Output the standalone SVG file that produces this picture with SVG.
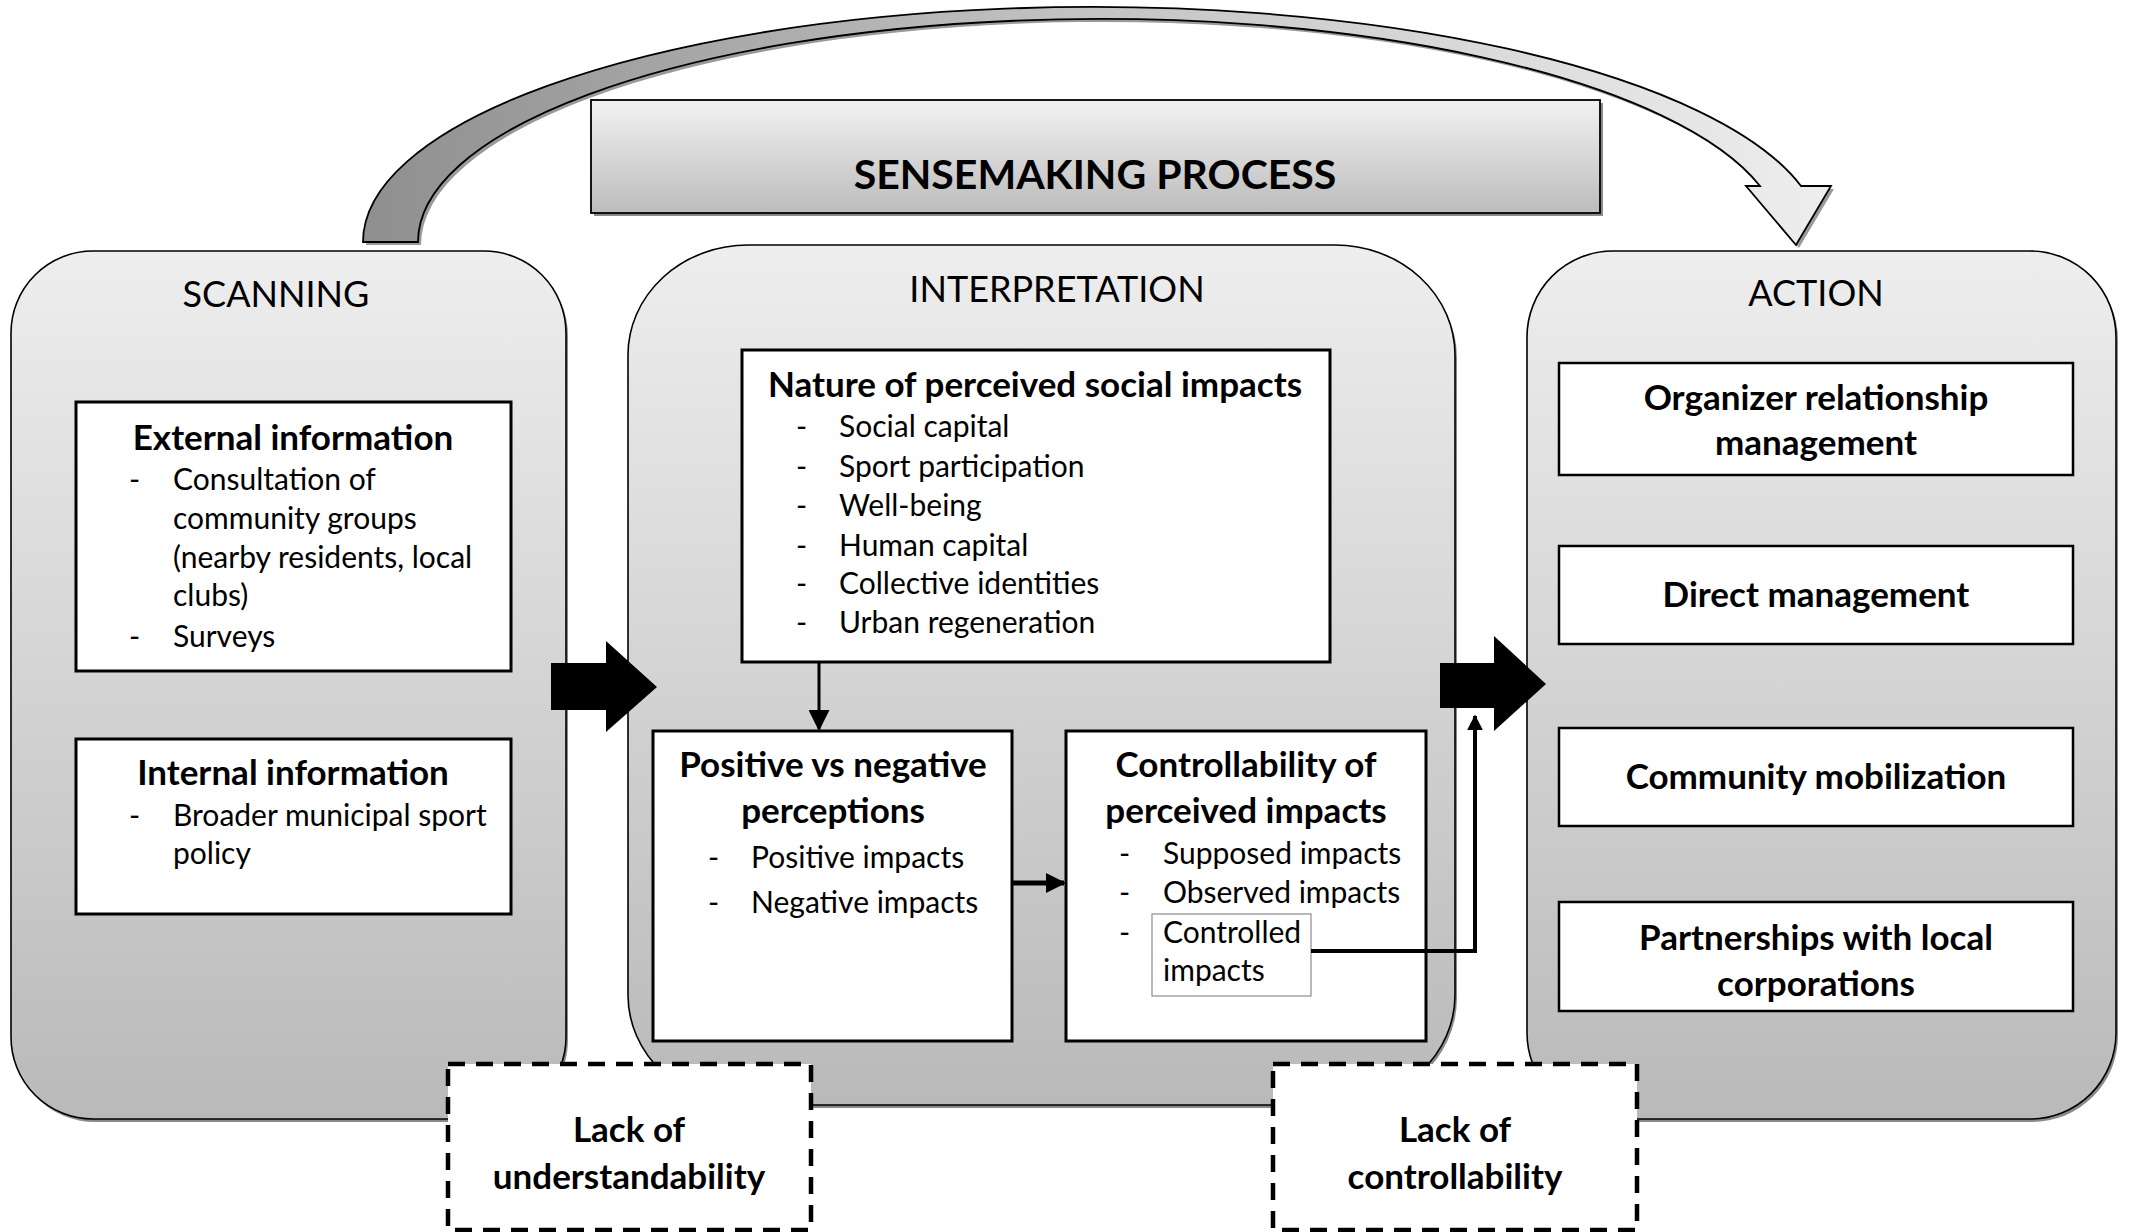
<svg xmlns="http://www.w3.org/2000/svg" width="2130" height="1232" viewBox="0 0 2130 1232">
<defs>
<linearGradient id="gCont" x1="0" y1="0" x2="0" y2="1">
<stop offset="0" stop-color="#eeeeee"/>
<stop offset="1" stop-color="#b9b9b9"/>
</linearGradient>
<linearGradient id="gHead" x1="0" y1="0" x2="0" y2="1">
<stop offset="0" stop-color="#f2f2f2"/>
<stop offset="1" stop-color="#bcbcbc"/>
</linearGradient>
<linearGradient id="gArc" gradientUnits="userSpaceOnUse" x1="363" y1="0" x2="1831" y2="0">
<stop offset="0" stop-color="#8f8f8f"/>
<stop offset="0.5" stop-color="#c4c4c4"/>
<stop offset="1" stop-color="#eeeeee"/>
</linearGradient>
<marker id="ah" viewBox="0 0 10 10" refX="9" refY="5" markerWidth="4" markerHeight="4" orient="auto" markerUnits="strokeWidth">
<path d="M0 0 L10 5 L0 10 Z" fill="#000"/>
</marker>
<marker id="ahS" viewBox="0 0 10 10" refX="9" refY="5" markerWidth="7" markerHeight="7" orient="auto" markerUnits="strokeWidth">
<path d="M0 0 L10 5 L0 10 Z" fill="#000"/>
</marker>
<path id="arcShape" d="M363 242 A729.5 235 0 0 1 1801 186 L1831 186 L1796 245 L1746 186 L1760 186 A681.9 223 0 0 0 418 242 Z"/>
</defs>
<style>
text{font-family:Lato,"Liberation Sans",sans-serif;fill:#000}
.h{font-size:36px;text-anchor:middle}
.t{font-size:35px;font-weight:bold;text-anchor:middle}
.b{font-size:30px}
.cont{fill:url(#gCont);stroke:#000;stroke-width:1.6}
.shadow{fill:#8a8a8a}
.box{fill:#fff;stroke:#000;stroke-width:3}
.abox{fill:#fff;stroke:#000;stroke-width:2.5}
.dash{fill:#fff;stroke:#000;stroke-width:4.5;stroke-dasharray:17 11}
.conn{fill:none;stroke:#000}
</style>

<!-- curved arrow on top -->
<g id="curved-arrow">
<use href="#arcShape" transform="translate(3,3)" fill="#9a9a9a"/>
<use href="#arcShape" fill="url(#gArc)" stroke="#000" stroke-width="1.8"/>
</g>

<g id="sensemaking">
<rect x="594" y="103" width="1009" height="113" class="shadow"/>
<rect x="591" y="100" width="1009" height="113" fill="url(#gHead)" stroke="#000" stroke-width="1.8"/>
<text x="1095" y="189" style="font-size:41px;font-weight:bold;text-anchor:middle">SENSEMAKING PROCESS</text>
</g>

<g id="scanning">
<rect x="13" y="254" width="555" height="868" rx="82" ry="82" class="shadow"/>
<rect x="11" y="251" width="555" height="868" rx="82" ry="82" class="cont"/>
<text x="276" y="307" class="h">SCANNING</text>
</g>

<g id="interpretation">
<rect x="630" y="248" width="827" height="860" rx="120" ry="110" class="shadow"/>
<rect x="628" y="245" width="827" height="860" rx="120" ry="110" class="cont"/>
<text x="1057" y="302" class="h">INTERPRETATION</text>
</g>

<g id="action">
<rect x="1529" y="254" width="589" height="868" rx="86" ry="86" class="shadow"/>
<rect x="1527" y="251" width="589" height="868" rx="86" ry="86" class="cont"/>
<text x="1816" y="306" class="h">ACTION</text>
</g>

<g id="block-arrows">
<path d="M551 663 H606 V641 L657 687 L606 732 V710 H551 Z" fill="#000"/>
<path d="M1440 663 H1494 V636 L1546 684 L1494 731 V708 H1440 Z" fill="#000"/>
</g>

<g id="external-information">
<rect x="76" y="402" width="435" height="269" class="box"/>
<text x="293" y="450" class="t">External information</text>
<text class="b"><tspan x="129" y="490">-</tspan><tspan x="173" y="490">Consultation of</tspan><tspan x="173" y="529">community groups</tspan><tspan x="173" y="568">(nearby residents, local</tspan><tspan x="173" y="606">clubs)</tspan><tspan x="129" y="647">-</tspan><tspan x="173" y="647">Surveys</tspan></text>
</g>

<g id="internal-information">
<rect x="76" y="739" width="435" height="175" class="box"/>
<text x="293" y="785" class="t">Internal information</text>
<text class="b"><tspan x="129" y="826">-</tspan><tspan x="173" y="826">Broader municipal sport</tspan><tspan x="173" y="864">policy</tspan></text>
</g>

<g id="nature">
<rect x="742" y="350" width="588" height="312" class="box"/>
<text x="1035" y="397" class="t">Nature of perceived social impacts</text>
<text class="b"><tspan x="796" y="437">-</tspan><tspan x="839" y="437">Social capital</tspan><tspan x="796" y="477">-</tspan><tspan x="839" y="477">Sport participation</tspan><tspan x="796" y="516">-</tspan><tspan x="839" y="516">Well-being</tspan><tspan x="796" y="556">-</tspan><tspan x="839" y="556">Human capital</tspan><tspan x="796" y="594">-</tspan><tspan x="839" y="594">Collective identities</tspan><tspan x="796" y="633">-</tspan><tspan x="839" y="633">Urban regeneration</tspan></text>
</g>

<g id="positive-negative">
<rect x="653" y="731" width="359" height="310" class="box"/>
<text class="t"><tspan x="833" y="777">Positive vs negative</tspan><tspan x="833" y="823">perceptions</tspan></text>
<text class="b"><tspan x="708" y="868">-</tspan><tspan x="751" y="868">Positive impacts</tspan><tspan x="708" y="913">-</tspan><tspan x="751" y="913">Negative impacts</tspan></text>
</g>

<g id="controllability">
<rect x="1066" y="731" width="360" height="310" class="box"/>
<text class="t"><tspan x="1246" y="777">Controllability of</tspan><tspan x="1246" y="823">perceived impacts</tspan></text>
<rect x="1152" y="914" width="159" height="82" fill="#fff" stroke="#8c8c8c" stroke-width="1.2"/>
<text class="b"><tspan x="1119" y="864">-</tspan><tspan x="1163" y="864">Supposed impacts</tspan><tspan x="1119" y="903">-</tspan><tspan x="1163" y="903">Observed impacts</tspan><tspan x="1119" y="943">-</tspan><tspan x="1163" y="943">Controlled</tspan><tspan x="1163" y="981">impacts</tspan></text>
</g>

<g id="organizer">
<rect x="1559" y="363" width="514" height="112" class="abox"/>
<text class="t"><tspan x="1816" y="410">Organizer relationship</tspan><tspan x="1816" y="455">management</tspan></text>
</g>
<g id="direct">
<rect x="1559" y="546" width="514" height="98" class="abox"/>
<text x="1816" y="607" class="t">Direct management</text>
</g>
<g id="community">
<rect x="1559" y="728" width="514" height="98" class="abox"/>
<text x="1816" y="789" class="t">Community mobilization</text>
</g>
<g id="partnerships">
<rect x="1559" y="902" width="514" height="109" class="abox"/>
<text class="t"><tspan x="1816" y="950">Partnerships with local</tspan><tspan x="1816" y="996">corporations</tspan></text>
</g>

<g id="connectors">
<line x1="819" y1="663" x2="819" y2="729" class="conn" stroke-width="3" marker-end="url(#ahS)"/>
<line x1="1013" y1="883" x2="1064" y2="883" class="conn" stroke-width="5" marker-end="url(#ah)"/>
<polyline points="1311,951 1475,951 1475,716" class="conn" stroke-width="4" marker-end="url(#ah)"/>
</g>

<g id="lack-understandability">
<rect x="448" y="1064" width="363" height="166" class="dash"/>
<text class="t"><tspan x="629" y="1142">Lack of</tspan><tspan x="629" y="1189">understandability</tspan></text>
</g>
<g id="lack-controllability">
<rect x="1273" y="1064" width="364" height="166" class="dash"/>
<text class="t"><tspan x="1455" y="1142">Lack of</tspan><tspan x="1455" y="1189">controllability</tspan></text>
</g>
</svg>
